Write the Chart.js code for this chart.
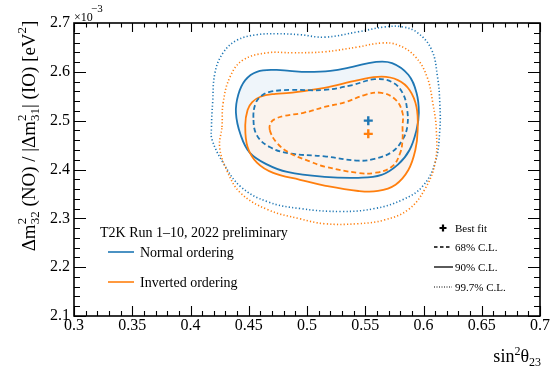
<!DOCTYPE html>
<html><head><meta charset="utf-8">
<script src="https://cdn.jsdelivr.net/npm/chart.js@4/dist/chart.umd.min.js"></script>
<style>html,body{margin:0;padding:0;background:#fff;}canvas{display:block}</style>
</head><body>
<canvas id="c" width="558" height="370"></canvas>
<script>
// ---- data (Δm² in units of 1e-3 eV²) ----
const xTickValues = [0.3, 0.35, 0.4, 0.45, 0.5, 0.55, 0.6, 0.65, 0.7];
const xTickLabels = ['0.3', '0.35', '0.4', '0.45', '0.5', '0.55', '0.6', '0.65', '0.7'];
const yTickValues = [2.1, 2.2, 2.3, 2.4, 2.5, 2.6, 2.7];
const yTickLabels = ['2.1', '2.2', '2.3', '2.4', '2.5', '2.6', '2.7'];
const bestFitNO = [[0.5526, 2.500]];
const bestFitIO = [[0.5526, 2.473]];
const contourNO68 = [[0.454,2.506],[0.456,2.536],[0.461,2.551],[0.468,2.559],[0.485,2.563],[0.515,2.563],[0.539,2.573],[0.558,2.585],[0.573,2.579],[0.582,2.557],[0.586,2.522],[0.586,2.487],[0.582,2.461],[0.573,2.436],[0.558,2.422],[0.544,2.418],[0.515,2.427],[0.485,2.433],[0.468,2.446],[0.457,2.470]];
const contourIO68 = [[0.468,2.481],[0.469,2.496],[0.473,2.504],[0.481,2.510],[0.497,2.516],[0.515,2.528],[0.533,2.538],[0.550,2.553],[0.564,2.557],[0.576,2.543],[0.582,2.516],[0.582,2.487],[0.582,2.461],[0.580,2.434],[0.573,2.406],[0.558,2.393],[0.544,2.393],[0.515,2.406],[0.503,2.416],[0.485,2.434],[0.474,2.455]];
const contourNO90 = [[0.439,2.516],[0.441,2.553],[0.447,2.583],[0.457,2.600],[0.473,2.604],[0.485,2.602],[0.500,2.600],[0.520,2.602],[0.539,2.610],[0.558,2.620],[0.573,2.618],[0.587,2.594],[0.594,2.557],[0.596,2.516],[0.594,2.481],[0.588,2.440],[0.578,2.410],[0.564,2.389],[0.544,2.383],[0.515,2.385],[0.483,2.395],[0.466,2.410],[0.451,2.434],[0.443,2.471]];
const contourIO90 = [[0.447,2.491],[0.449,2.522],[0.453,2.538],[0.460,2.549],[0.473,2.555],[0.485,2.557],[0.515,2.567],[0.544,2.583],[0.564,2.590],[0.578,2.583],[0.588,2.563],[0.594,2.528],[0.595,2.481],[0.593,2.440],[0.587,2.399],[0.576,2.369],[0.561,2.356],[0.544,2.356],[0.515,2.367],[0.494,2.379],[0.471,2.393],[0.457,2.414],[0.449,2.446]];
const contourNO997 = [[0.418,2.487],[0.419,2.536],[0.421,2.598],[0.428,2.639],[0.440,2.665],[0.457,2.676],[0.474,2.678],[0.494,2.676],[0.515,2.671],[0.544,2.682],[0.567,2.692],[0.582,2.692],[0.595,2.680],[0.607,2.645],[0.612,2.590],[0.614,2.536],[0.614,2.481],[0.610,2.414],[0.599,2.365],[0.582,2.338],[0.558,2.320],[0.530,2.314],[0.494,2.320],[0.466,2.334],[0.443,2.365],[0.428,2.414],[0.4185,2.461]];
const contourIO997 = [[0.427,2.487],[0.428,2.536],[0.434,2.590],[0.445,2.624],[0.466,2.639],[0.488,2.639],[0.515,2.641],[0.544,2.651],[0.564,2.659],[0.578,2.655],[0.593,2.631],[0.603,2.590],[0.608,2.536],[0.611,2.481],[0.610,2.414],[0.601,2.359],[0.587,2.318],[0.567,2.297],[0.544,2.289],[0.515,2.289],[0.494,2.299],[0.466,2.318],[0.443,2.352],[0.431,2.399],[0.425,2.446]];

const BLUE = '#1f77b4', ORANGE = '#ff7f0e';
const SERIF = '"Liberation Serif", "Times New Roman", serif';
const toXY = a => a.map(p => ({x: p[0], y: p[1]}));

function contour(label, pts, color, style, order, fillColor) {
  const d = {
    label, data: toXY(pts), showLine: true, closedLoop: true,
    borderColor: color, pointRadius: 0, pointHoverRadius: 0, tension: 0.4,
    borderWidth: style === 'dot' ? 1.6 : 1.8, order,
    borderDash: style === 'dash' ? [5, 3] : (style === 'dot' ? [1.2, 2.2] : []),
    fill: false
  };
  if (fillColor) { d.fill = 'shape'; d.backgroundColor = fillColor; }
  return d;
}

const loopPlugin = {
  id: 'loopLines',
  afterDatasetUpdate(chart, args) {
    const ds = chart.data.datasets[args.index];
    const line = args.meta.dataset;
    if (ds && ds.closedLoop && line) {
      line._loop = true;
      line._fullLoop = true;
      delete line._segments;
      delete line._path;
      line._pointsUpdated = false;
    }
  }
};

function richWidth(ctx, parts) {
  let w = 0;
  for (const p of parts) {
    if (p.t !== undefined) { ctx.font = p.s + 'px ' + SERIF; w += ctx.measureText(p.t).width; }
    else {
      ctx.font = p.s + 'px ' + SERIF;
      w += Math.max(p.sup ? ctx.measureText(p.sup).width : 0, p.sub ? ctx.measureText(p.sub).width : 0);
    }
  }
  return w;
}
function drawRich(ctx, parts, x, y, up, down) {
  for (const p of parts) {
    ctx.font = p.s + 'px ' + SERIF;
    if (p.t !== undefined) { ctx.fillText(p.t, x, y); x += ctx.measureText(p.t).width; }
    else {
      let w = 0;
      if (p.sup) { ctx.fillText(p.sup, x, y - up); w = Math.max(w, ctx.measureText(p.sup).width); }
      if (p.sub) { ctx.fillText(p.sub, x, y + down); w = Math.max(w, ctx.measureText(p.sub).width); }
      x += w;
    }
  }
}

const decorPlugin = {
  id: 'decor',
  afterDraw(chart) {
    const ctx = chart.ctx, a = chart.chartArea;
    const xs = chart.scales.x, ys = chart.scales.y;
    ctx.save();
    ctx.strokeStyle = '#000'; ctx.fillStyle = '#000';
    // minor + major ticks, pointing inward on all four sides
    ctx.lineWidth = 1.1;
    ctx.beginPath();
    for (let i = 0; i <= 40; i++) {
      const v = 0.3 + i * 0.01;
      const px = Math.round(xs.getPixelForValue(v)) + 0.5;
      const major = i % 5 === 0;
      const lb = major ? 10 : 5, lt = major ? 9 : 4.5;
      ctx.moveTo(px, a.bottom); ctx.lineTo(px, a.bottom - lb);
      ctx.moveTo(px, a.top); ctx.lineTo(px, a.top + lt);
    }
    for (let i = 0; i <= 30; i++) {
      const v = 2.1 + i * 0.02;
      const py = Math.round(ys.getPixelForValue(v)) + 0.5;
      const major = i % 5 === 0;
      const l = major ? 12 : 6;
      ctx.moveTo(a.left, py); ctx.lineTo(a.left + l, py);
      ctx.moveTo(a.right, py); ctx.lineTo(a.right - l, py);
    }
    ctx.stroke();
    // frame
    ctx.lineWidth = 1.6;
    ctx.strokeRect(a.left, a.top, a.right - a.left, a.bottom - a.top);

    ctx.textBaseline = 'alphabetic';
    ctx.textAlign = 'left';
    // exponent label
    ctx.font = '12px ' + SERIF; ctx.fillText('\u00d710', 74, 21);
    ctx.font = '11px ' + SERIF; ctx.fillText('\u22123', 91, 12);

    // y title (rotated)
    const yParts = [
      {t: '\u0394m', s: 19}, {sup: '2', sub: '32', s: 13},
      {t: ' (NO) / |\u0394m', s: 19}, {sup: '2', sub: '31', s: 13},
      {t: '| (IO) [eV', s: 19}, {sup: '2', s: 13}, {t: ']', s: 19}
    ];
    const yw = richWidth(ctx, yParts);
    ctx.save();
    ctx.translate(34.5, 136);
    ctx.rotate(-Math.PI / 2);
    drawRich(ctx, yParts, -yw / 2, 0, 9, 4.5);
    ctx.restore();

    // x title
    const xParts = [{t: 'sin', s: 18}, {sup: '2', s: 12}, {t: '\u03b8', s: 18}, {sub: '23', s: 12}];
    const xw = richWidth(ctx, xParts);
    drawRich(ctx, xParts, 541 - xw, 362, 7, 4);

    // left legend
    ctx.font = '14px ' + SERIF;
    ctx.fillText('T2K Run 1\u201310, 2022 preliminary', 100, 237);
    ctx.fillText('Normal ordering', 140, 257);
    ctx.fillText('Inverted ordering', 140, 287);
    ctx.lineWidth = 1.6;
    ctx.strokeStyle = BLUE; ctx.beginPath(); ctx.moveTo(108, 252); ctx.lineTo(134, 252); ctx.stroke();
    ctx.strokeStyle = ORANGE; ctx.beginPath(); ctx.moveTo(108, 282); ctx.lineTo(134, 282); ctx.stroke();

    // right legend
    ctx.strokeStyle = '#000';
    ctx.lineWidth = 2.2;
    ctx.beginPath(); ctx.moveTo(439.5, 228); ctx.lineTo(446.5, 228); ctx.moveTo(443, 224.5); ctx.lineTo(443, 231.5); ctx.stroke();
    ctx.lineWidth = 1.3;
    ctx.setLineDash([3.5, 2.5]); ctx.beginPath(); ctx.moveTo(434, 247); ctx.lineTo(452, 247); ctx.stroke();
    ctx.setLineDash([]); ctx.beginPath(); ctx.moveTo(434, 267); ctx.lineTo(453, 267); ctx.stroke();
    ctx.lineWidth = 1; ctx.setLineDash([1, 1.5]); ctx.beginPath(); ctx.moveTo(434, 287); ctx.lineTo(452, 287); ctx.stroke();
    ctx.setLineDash([]);
    ctx.font = '11px ' + SERIF;
    ctx.fillText('Best fit', 455, 232);
    ctx.fillText('68% C.L.', 455, 251);
    ctx.fillText('90% C.L.', 455, 271);
    ctx.fillText('99.7% C.L.', 455, 291);
    ctx.restore();
  }
};

new Chart(document.getElementById('c'), {
  type: 'scatter',
  data: {
    datasets: [
      contour('NO 90% C.L.', contourNO90, BLUE, 'solid', 6, '#eff5fa'),
      contour('IO 90% C.L.', contourIO90, ORANGE, 'solid', 5, '#fbf3ed'),
      contour('NO 68% C.L.', contourNO68, BLUE, 'dash', 4),
      contour('IO 68% C.L.', contourIO68, ORANGE, 'dash', 3),
      contour('NO 99.7% C.L.', contourNO997, BLUE, 'dot', 4),
      contour('IO 99.7% C.L.', contourIO997, ORANGE, 'dot', 3),
      {label: 'NO best fit', data: toXY(bestFitNO), showLine: false, pointStyle: 'cross', pointRadius: 4.5, borderWidth: 2.4, borderColor: BLUE, backgroundColor: BLUE, order: 0},
      {label: 'IO best fit', data: toXY(bestFitIO), showLine: false, pointStyle: 'cross', pointRadius: 4.5, borderWidth: 2.4, borderColor: ORANGE, backgroundColor: ORANGE, order: 0}
    ]
  },
  options: {
    responsive: false, animation: false, devicePixelRatio: 1,
    layout: {padding: {top: 23, right: 18, left: 0, bottom: 0}},
    plugins: {legend: {display: false}, tooltip: {enabled: false}, filler: {drawTime: 'beforeDatasetsDraw'}},
    events: [],
    scales: {
      x: {
        type: 'linear', min: 0.3, max: 0.7,
        afterBuildTicks: s => { s.ticks = xTickValues.map(v => ({value: v})); },
        afterFit: s => { s.height = 54; },
        ticks: {callback: (v, i) => xTickLabels[i], font: {family: SERIF, size: 16}, color: '#000', padding: 0, maxRotation: 0, autoSkip: false},
        grid: {display: false, drawTicks: false}, border: {display: false}
      },
      y: {
        type: 'linear', min: 2.1, max: 2.7,
        afterBuildTicks: s => { s.ticks = yTickValues.map(v => ({value: v})); },
        afterFit: s => { s.width = 74; },
        ticks: {callback: (v, i) => yTickLabels[i], font: {family: SERIF, size: 16}, color: '#000', padding: 4, autoSkip: false},
        grid: {display: false, drawTicks: false}, border: {display: false}
      }
    }
  },
  plugins: [loopPlugin, decorPlugin]
});
</script>
</body></html>
